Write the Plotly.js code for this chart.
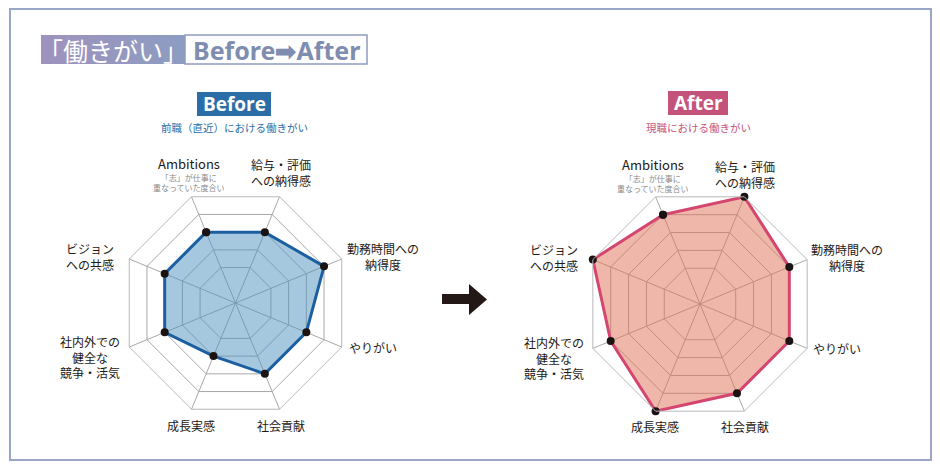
<!DOCTYPE html>
<html>
<head>
<meta charset="utf-8">
<script src="https://cdn.plot.ly/plotly-3.0.1.min.js"></script>
<style>
  html, body { margin: 0; padding: 0; background: #fff; }
  #chart { width: 940px; height: 470px; }
</style>
</head>
<body>
<div id="chart"></div>
<script>
// axes of the radar, clockwise from upper left
var axisNames = ['Ambitions', '給与・評価への納得感', '勤務時間への納得度', 'やりがい',
                 '社会貢献', '成長実感', '社内外での健全な競争・活気', 'ビジョンへの共感'];
var axisLabels = ['Ambitions', '給与・評価<br>への納得感', '勤務時間への<br>納得度', 'やりがい',
                  '社会貢献', '成長実感', '社内外での<br>健全な<br>競争・活気', 'ビジョン<br>への共感'];
var ambitionsNote = '「志」が仕事に<br>重なっていた度合い';

var beforeValues = [4, 4, 5, 4, 4, 3, 4, 4];
var afterValues = [5, 6, 5, 5, 5, 6, 5, 6];
var ringValues = [2, 3, 4, 5, 6];

var W = 940, H = 470;
function px(x) { return x / W; }
function py(y) { return 1 - y / H; }

var FONT = '"Noto Sans CJK JP", "Noto Sans", sans-serif';
var TEXT = '#231815';

// label block centres, relative to each radar centre (pixels)
var labelOffsets = [[-47, -140], [45, -130], [147, -47], [137, 44],
                    [45, 122], [-45, 122], [-146, 54], [-146, -47]];

var panels = [
  {name: 'Before', sub: '前職（直近）における働きがい', values: beforeValues,
   cx: 235.5, cy: 303, r: 115, color: '#2b6ea7', line: '#1b5fa0',
   fill: 'rgba(77,145,189,0.5)', box: [197, 92, 271, 116]},
  {name: 'After', sub: '現職における働きがい', values: afterValues,
   cx: 700, cy: 304, r: 116, color: '#c4537b', line: '#d4466f',
   fill: 'rgba(223,109,85,0.5)', box: [668, 91, 728, 115]}
];

var traces = [];
var layout = {
  width: W, height: H,
  margin: {l: 0, r: 0, t: 0, b: 0},
  paper_bgcolor: '#fff',
  showlegend: false,
  font: {family: FONT, color: TEXT},
  shapes: [],
  annotations: []
};

function note(x, y, text, font) {
  layout.annotations.push({xref: 'paper', yref: 'paper', showarrow: false,
    xanchor: 'center', yanchor: 'middle', align: 'center',
    x: px(x), y: py(y), text: text, font: font});
}

panels.forEach(function(p, i) {
  var key = i === 0 ? 'polar' : 'polar' + (i + 1);
  traces.push({
    type: 'scatterpolar',
    subplot: key,
    r: p.values.concat([p.values[0]]),
    theta: axisNames.concat([axisNames[0]]),
    mode: 'lines+markers',
    fill: 'toself',
    fillcolor: p.fill,
    line: {color: p.line, width: 3},
    marker: {color: '#1a1311', size: 8},
    hoverinfo: 'skip'
  });
  layout[key] = {
    domain: {x: [px(p.cx - p.r), px(p.cx + p.r)], y: [py(p.cy + p.r), py(p.cy - p.r)]},
    bgcolor: '#fff',
    gridshape: 'linear',
    angularaxis: {
      type: 'category', categoryarray: axisNames,
      rotation: 112.5, direction: 'clockwise',
      showticklabels: false, ticks: '',
      showline: true, linecolor: '#b8b8b8', linewidth: 1,
      gridcolor: '#a8a8a8', gridwidth: 1
    },
    radialaxis: {
      range: [0, 6], tickvals: ringValues,
      showticklabels: false, ticks: '', showline: false,
      gridcolor: '#a8a8a8', gridwidth: 1
    }
  };

  // header box + subtitle
  layout.shapes.push({type: 'rect', xref: 'paper', yref: 'paper', layer: 'below',
    x0: px(p.box[0]), x1: px(p.box[2]), y0: py(p.box[3]), y1: py(p.box[1]),
    fillcolor: p.color, line: {width: 0}});
  note((p.box[0] + p.box[2]) / 2, (p.box[1] + p.box[3]) / 2, '<b>' + p.name + '</b>',
    {family: '"Open Sans", sans-serif', size: 19, color: '#fff'});
  note((p.box[0] + p.box[2]) / 2, 128, p.sub, {size: 10.5, color: p.color});

  // axis labels
  axisLabels.forEach(function(lab, k) {
    var o = labelOffsets[k];
    note(p.cx + o[0], p.cy + o[1], lab, {size: k === 0 ? 13 : 12, color: TEXT});
  });
  note(p.cx + labelOffsets[0][0], p.cy - 121, ambitionsNote, {size: 8, color: '#8a8a8a'});
});

// outer frame
layout.shapes.push({type: 'rect', xref: 'paper', yref: 'paper', layer: 'below',
  x0: px(10), x1: px(931), y0: py(460), y1: py(9),
  line: {color: '#9aa6c6', width: 2}, fillcolor: 'rgba(0,0,0,0)'});

// title banner: stepped gradient
var steps = 12, bx0 = 41, bx1 = 185;
for (var s = 0; s < steps; s++) {
  var t = s / (steps - 1);
  var cr = Math.round(158 + (141 - 158) * t);
  var cg = Math.round(147 + (156 - 147) * t);
  var cb = Math.round(190 + (193 - 190) * t);
  layout.shapes.push({type: 'rect', xref: 'paper', yref: 'paper', layer: 'below',
    x0: px(bx0 + (bx1 - bx0) * s / steps), x1: px(bx0 + (bx1 - bx0) * (s + 1) / steps + 0.5),
    y0: py(64), y1: py(35),
    fillcolor: 'rgb(' + cr + ',' + cg + ',' + cb + ')', line: {width: 0}});
}
layout.shapes.push({type: 'rect', xref: 'paper', yref: 'paper', layer: 'below',
  x0: px(185), x1: px(367), y0: py(64), y1: py(35),
  fillcolor: '#fff', line: {color: '#8e9cc0', width: 1.5}});
note(113, 50, '「働きがい」', {size: 25, color: '#fff'});
note(276, 50, '<b>Before➡After</b>', {family: '"Noto Sans", sans-serif', size: 25, color: '#7f8db0'});

// middle arrow
var arrowPts = [[442, 294], [469, 294], [469, 284], [487, 299.5], [469, 315], [469, 304], [442, 304]];
layout.shapes.push({type: 'path', xref: 'paper', yref: 'paper',
  path: 'M' + arrowPts.map(function(q) { return px(q[0]) + ',' + py(q[1]); }).join('L') + 'Z',
  fillcolor: '#231815', line: {width: 0}});

Plotly.newPlot('chart', traces, layout, {displayModeBar: false, staticPlot: true});
</script>
</body>
</html>
